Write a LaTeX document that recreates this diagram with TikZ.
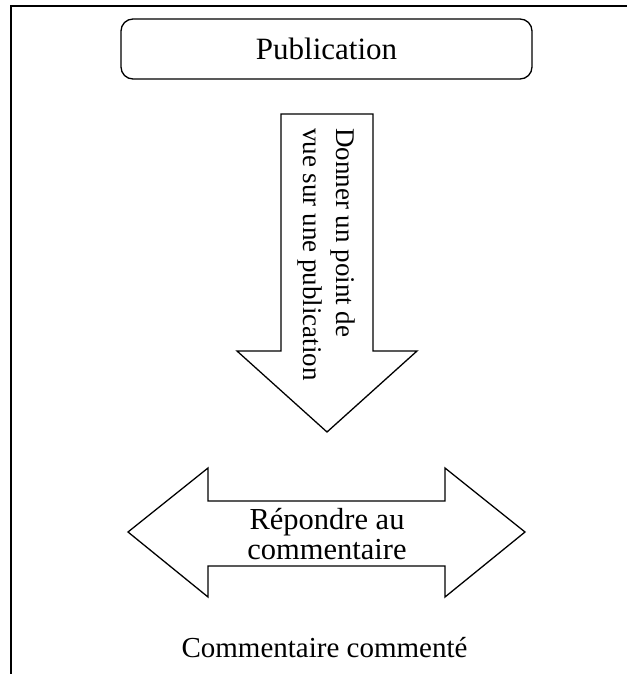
\documentclass[tikz,border=0pt]{standalone}
\usepackage{fontspec}
\setmainfont{Liberation Serif}
\begin{document}
\begin{tikzpicture}[x=1pt,y=-1pt,
  frameline/.style={line width=2pt},
  shapeline/.style={draw=black,line width=1.3pt,line join=miter},
  lbl/.style={inner sep=0pt}]
\useasboundingbox (0,0) rectangle (627,674);
% frame
\draw[frameline] (11,674) -- (11,6) -- (627,6);
% Publication box
\draw[shapeline,rounded corners=12pt] (121,19) rectangle (532,79);
\node[lbl,anchor=base] (pub) at (326.5,60) {\fontsize{31}{37}\selectfont Publication};
% down arrow
\draw[shapeline] (281,114) -- (373,114) -- (373,351) -- (417,351) -- (327,432) -- (237,351) -- (281,351) -- cycle;
\node[lbl,rotate=-90,anchor=base west] (d1) at (336,128) {\fontsize{27}{32}\selectfont Donner un point de};
\node[lbl,rotate=-90,anchor=base west] (d2) at (303,128) {\fontsize{27}{32}\selectfont vue sur une publication};
% double arrow
\draw[shapeline] (128,532) -- (208,468) -- (208,501) -- (445,501) -- (445,468) -- (525,532) -- (445,597) -- (445,566) -- (208,566) -- (208,597) -- cycle;
\node[lbl,anchor=base] (r1) at (327,529) {\fontsize{30.5}{35}\selectfont Répondre au};
\node[lbl,anchor=base] (r2) at (327,559) {\fontsize{30.5}{35}\selectfont commentaire};
% bottom label
\node[lbl,anchor=base] (cc) at (324.5,657) {\fontsize{29}{34}\selectfont Commentaire commenté};
\end{tikzpicture}
\end{document}
